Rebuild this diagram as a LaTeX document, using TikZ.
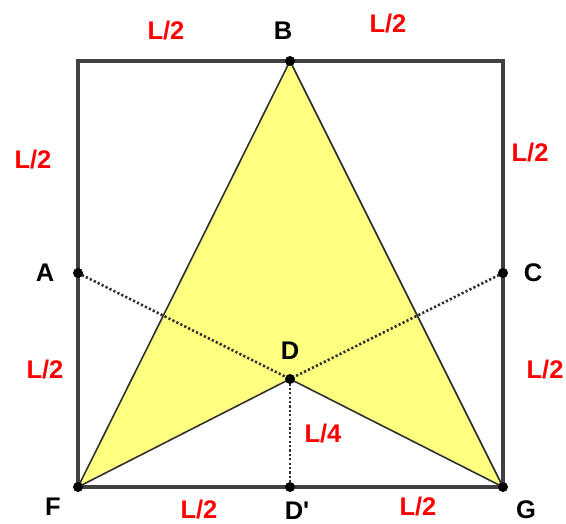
\documentclass[tikz,border=0pt]{standalone}
\usepackage{fontspec}
\setmainfont{Liberation Sans}
\usetikzlibrary{positioning}
\definecolor{cframe}{HTML}{404040}
\definecolor{cedge}{HTML}{303030}
\definecolor{cshade}{HTML}{FFFF80}
\definecolor{clength}{HTML}{FF0000}
\definecolor{cpoint}{HTML}{000000}

\begin{document}
\begin{tikzpicture}[
    x=1pt, y=-1pt,
    dot/.style={circle, fill=cpoint, inner sep=0pt, minimum size=10pt},
    ptlabel/.style={font=\bfseries\fontsize{25.5}{30}\selectfont, text=black, inner sep=0pt},
    lenlabel/.style={font=\bfseries\fontsize{25.5}{30}\selectfont, text=clength, inner sep=0pt},
    frameline/.style={draw=cframe, line width=3.2pt},
    edgeline/.style={draw=cedge, line width=1.6pt, line join=round},
    guideline/.style={draw=cedge, line width=2.6pt, dash pattern=on 2.2pt off 2.2pt},
]
\useasboundingbox (0,0) rectangle (566,524);

% ============================================================
% POINTS
% ============================================================
\coordinate (B) at (290,61);
\coordinate (A) at (78,273);
\coordinate (C) at (503,273);
\coordinate (D) at (290,379);
\coordinate (F) at (78,487);
\coordinate (G) at (503,487);
\coordinate (Dp) at (290,487);
\coordinate (TL) at (78,61);
\coordinate (TR) at (503,61);

% ============================================================
% SHADED ARROWHEAD
% ============================================================
\fill[cshade] (F) -- (B) -- (G) -- (D) -- cycle;
\draw[edgeline] (F) -- (B) -- (G) -- (D) -- cycle;

% ============================================================
% SQUARE
% ============================================================
\draw[frameline] (TL) -- (TR) -- (G) -- (F) -- cycle;

% Dotted guides
\draw[guideline] (A) -- (D);
\draw[guideline] (C) -- (D);
\draw[guideline] (D) -- (Dp);

% Dots
\node[dot] (dB) at (B) {};
\node[dot] (dA) at (A) {};
\node[dot] (dC) at (C) {};
\node[dot] (dD) at (D) {};
\node[dot] (dF) at (F) {};
\node[dot] (dG) at (G) {};
\node[dot] (dDp) at (Dp) {};

% ============================================================
% LABELS
% ============================================================
\node[ptlabel] (lB) at (283,31) {B};
\node[ptlabel] (lA) at (45,273) {A};
\node[ptlabel] (lC) at (533,273) {C};
\node[ptlabel] (lD) at (290,351) {D};
\node[ptlabel] (lF) at (53,507) {F};
\node[ptlabel] (lDp) at (297,511) {D\textquotesingle};
\node[ptlabel] (lG) at (526,510) {G};

\node[lenlabel] (top1) at (166,31) {L/2};
\node[lenlabel] (top2) at (388,24) {L/2};
\node[lenlabel] (left1) at (33,160) {L/2};
\node[lenlabel] (left2) at (45,370) {L/2};
\node[lenlabel] (right1) at (530,153) {L/2};
\node[lenlabel] (right2) at (545,370) {L/2};
\node[lenlabel] (bot1) at (199,510) {L/2};
\node[lenlabel] (bot2) at (418,507) {L/2};
\node[lenlabel] (quarter) at (323,434) {L/4};

\end{tikzpicture}
\end{document}
